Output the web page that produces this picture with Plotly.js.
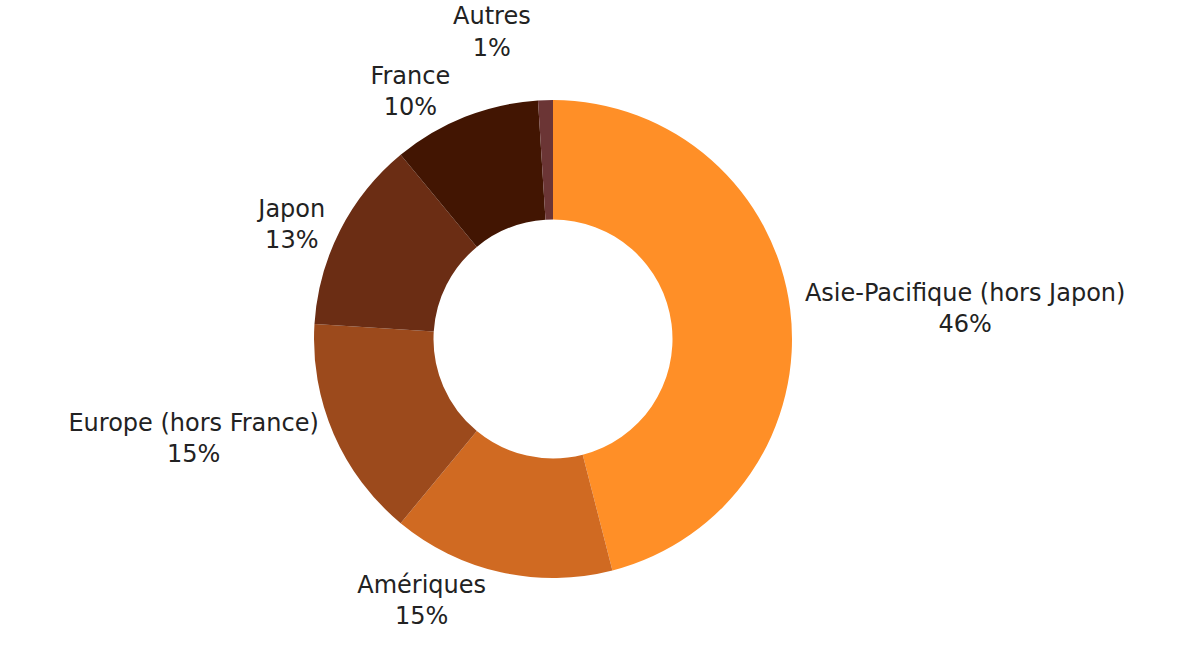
<!DOCTYPE html>
<html>
<head>
<meta charset="utf-8">
<script src="https://cdn.plot.ly/plotly-3.0.1.min.js"></script>
<style>html,body{margin:0;padding:0;background:#fff;}#chart{width:1204px;height:657px;}path.textline{display:none;}</style>
</head>
<body>
<div id="chart"></div>
<script>
const categories = ["Asie-Pacifique (hors Japon)", "Amériques", "Europe (hors France)", "Japon", "France", "Autres"];
const values = [46, 15, 15, 13, 10, 1];
const colors = ["#FF8F27", "#D06A22", "#9C4A1C", "#6B2D14", "#421502", "#6B3535"];

const trace = {
  type: "pie",
  labels: categories,
  values: values,
  hole: 0.5,
  sort: false,
  direction: "clockwise",
  rotation: 0,
  marker: {colors: colors, line: {width: 0}},
  textinfo: "label+percent",
  texttemplate: "%{label}<br>%{percent:.0%}",
  textposition: "outside",
  outsidetextfont: {family: "DejaVu Sans", size: 24, color: "#222222"},
  domain: {x: [314/1204, 792/1204], y: [79/657, 557/657]},
  hoverinfo: "label+percent"
};

const layout = {
  width: 1204,
  height: 657,
  margin: {l: 0, r: 0, t: 0, b: 0},
  showlegend: false,
  paper_bgcolor: "#ffffff",
  font: {family: "DejaVu Sans", size: 24, color: "#222222"}
};

Plotly.newPlot("chart", [trace], layout, {displayModeBar: false, staticPlot: true});
</script>
</body>
</html>
